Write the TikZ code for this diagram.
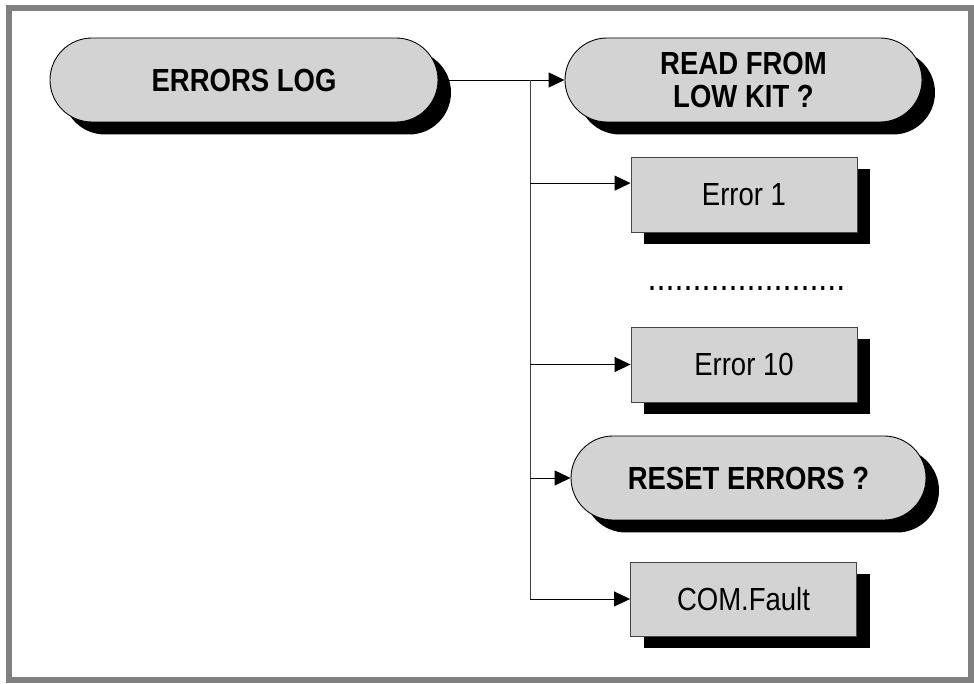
\documentclass[tikz,border=0pt]{standalone}
\usepackage{fontspec}
\setmainfont[FakeStretch=0.86]{Liberation Sans}
\usetikzlibrary{arrows.meta,positioning,calc,shapes.misc,shadows}
\definecolor{boxfill}{RGB}{211,211,211}
\definecolor{framegrey}{RGB}{128,128,128}
\definecolor{edgegrey}{RGB}{70,70,70}
\newcommand{\boxfont}{\fontsize{18.2}{18.8}\selectfont}
\tikzset{
  hardshadow/.style={drop shadow={shadow xshift=0.26cm,shadow yshift=-0.25cm,
                     fill=black,opacity=1}},
  stepbox/.style={rectangle,draw=edgegrey,fill=boxfill,line width=0.5pt,
                  minimum width=4.52cm,minimum height=1.5cm,inner sep=0pt,
                  font=\boxfont,hardshadow},
  term/.style={rounded rectangle,draw=black,fill=boxfill,line width=0.5pt,
               minimum height=1.68cm,inner sep=0pt,align=center,
               font=\boxfont\bfseries,hardshadow},
  link/.style={-{Triangle[length=0.32cm,width=0.3cm]},draw=black,line width=0.55pt},
  wire/.style={draw=black!75,line width=0.55pt},
}

\begin{document}
\begin{tikzpicture}[x=1cm,y=1cm]
  \useasboundingbox (0,0) rectangle (19.48,13.68);
  \draw[framegrey,line width=0.12cm] (0.18,0.07) rectangle (19.42,13.52);
  % menu items
  \node[term,minimum width=7.76cm] (log) at (4.88,12.08) {ERRORS LOG};
  \node[term,minimum width=7.14cm] (read) at (14.87,12.08) {READ FROM\\LOW KIT ?};
  \node[stepbox] (err1) at (14.88,9.79) {Error 1};
  \node[font=\fontsize{21.4}{22}\selectfont] (gap) at (14.93,7.92)
    {......................};
  \node[stepbox] (err10) at (14.88,6.39) {Error 10};
  \node[term,minimum width=7.10cm] (reset) at (14.97,4.12) {RESET ERRORS ?};
  \node[stepbox,minimum height=1.48cm] (com) at (14.87,1.70) {COM.Fault};
  % connectors
  \coordinate (fork) at (10.6,12.08);
  \coordinate (err1in) at ($(err1.north west)!0.35!(err1.south west)$);
  \draw[link] (log.east) -- (read.west);
  \draw[wire] (fork) -- (fork |- com.west);
  \draw[link] (fork |- err1in) -- (err1in);
  \draw[link] (fork |- err10.west) -- (err10.west);
  \draw[link] (fork |- reset.west) -- (reset.west);
  \draw[link] (fork |- com.west) -- (com.west);
\end{tikzpicture}
\end{document}
